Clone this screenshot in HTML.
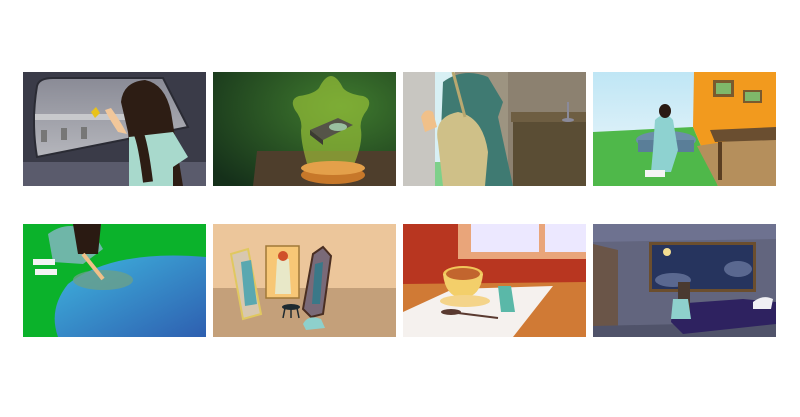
<!DOCTYPE html>
<html><head><meta charset="utf-8"><style>
html,body{margin:0;padding:0;background:#fff;width:800px;height:417px;overflow:hidden;font-family:"Liberation Sans",sans-serif}
.p{position:absolute;width:183px;height:114px;overflow:hidden}
.p svg{display:block}
</style></head><body>
<div>

<div class="p" style="left:23px;top:72px">
<svg width="183" height="114" viewBox="0 0 183 114">
<defs><linearGradient id="g1" x1="0" y1="0" x2="0" y2="1"><stop offset="0" stop-color="#8a8b96"/><stop offset="1" stop-color="#b5b6bc"/></linearGradient></defs>
<rect width="183" height="114" fill="#3a3b48"/>
<rect x="0" y="90" width="183" height="24" fill="#5a5b6c"/>
<path d="M14 14 Q16 6 30 6 L140 6 L165 55 L14 85 Q8 50 14 14 Z" fill="url(#g1)" stroke="#2a2b34" stroke-width="2"/>
<rect x="12" y="42" width="120" height="6" fill="#c8c9cc"/>
<rect x="18" y="58" width="6" height="12" fill="#777"/><rect x="38" y="56" width="6" height="12" fill="#777"/><rect x="58" y="55" width="6" height="12" fill="#777"/>
<polygon points="68,40 73,35 77,41 72,46" fill="#e8c21a"/>
<path d="M95 60 Q85 45 82 38 L88 36 Q98 50 104 62 Z" fill="#f2c79a"/>
<path d="M98 30 Q100 10 122 8 Q142 12 148 40 L160 114 L110 114 L105 60 Z" fill="#2d1d14"/>
<path d="M106 65 L150 60 L165 85 L150 95 L150 114 L106 114 Z" fill="#a8d9cc"/>
<path d="M115 60 Q120 70 125 110" stroke="#2d1d14" stroke-width="10" fill="none"/>
</svg></div>

<div class="p" style="left:213px;top:72px">
<svg width="183" height="114" viewBox="0 0 183 114">
<defs><radialGradient id="g2" cx="0.7" cy="0.3" r="0.9"><stop offset="0" stop-color="#3f7a2e"/><stop offset="1" stop-color="#15301a"/></radialGradient></defs>
<rect width="183" height="114" fill="url(#g2)"/>
<path d="M44 79 L183 79 L183 114 L40 114 Z" fill="#4e3e2c"/>
<path d="M118 4 Q124 4 130 16 Q135 22 150 24 Q160 27 154 38 Q146 48 148 58 Q150 72 140 95 L95 95 Q88 72 88 58 Q90 48 82 38 Q76 27 86 24 Q101 22 106 16 Q112 4 118 4 Z" fill="#a6cf3a" opacity="0.6"/>
<ellipse cx="120" cy="103" rx="32" ry="9" fill="#c7782a"/>
<ellipse cx="120" cy="96" rx="32" ry="7" fill="#e4a04a"/>
<polygon points="97,58 125,46 140,53 110,68" fill="#555448"/>
<polygon points="97,58 110,68 110,73 97,63" fill="#3c3b33"/>
<ellipse cx="125" cy="55" rx="9" ry="4" fill="#9ac0a0"/>
</svg></div>

<div class="p" style="left:403px;top:72px">
<svg width="183" height="114" viewBox="0 0 183 114">
<rect width="183" height="114" fill="#9d9481"/>
<rect x="0" y="0" width="32" height="114" fill="#c8c6c1"/>
<rect x="32" y="0" width="20" height="114" fill="#d8f0f4"/>
<rect x="32" y="90" width="20" height="24" fill="#7ed08a"/>
<rect x="105" y="0" width="78" height="114" fill="#8c8170"/>
<rect x="108" y="40" width="75" height="10" fill="#6e5e42"/>
<rect x="110" y="50" width="73" height="64" fill="#5a4d34"/>
<ellipse cx="165" cy="48" rx="6" ry="2" fill="#8a8a9a"/>
<rect x="164" y="30" width="2" height="18" fill="#8a8a9a"/>
<path d="M40 10 Q60 -5 85 5 L100 30 L95 45 L110 114 L45 114 L38 60 Z" fill="#3f7a72"/>
<path d="M35 70 Q30 45 55 40 Q80 45 85 80 L82 114 L40 114 Z" fill="#cfc088"/>
<path d="M50 0 L62 45" stroke="#b8a870" stroke-width="3"/>
<path d="M18 45 Q22 35 30 40 L34 55 L22 60 Z" fill="#f0c089"/>
</svg></div>

<div class="p" style="left:593px;top:72px">
<svg width="183" height="114" viewBox="0 0 183 114">
<defs><linearGradient id="g4" x1="0" y1="0" x2="0" y2="1"><stop offset="0" stop-color="#bfe6f5"/><stop offset="1" stop-color="#f1f8fb"/></linearGradient></defs>
<rect width="183" height="114" fill="url(#g4)"/>
<path d="M0 60 L100 55 L125 114 L0 114 Z" fill="#4fb84a"/>
<path d="M101 0 L183 0 L183 114 L125 114 L100 55 Z" fill="#f29a1e"/>
<path d="M104 74 L183 62 L183 114 L125 114 Z" fill="#b58f5c"/>
<rect x="120" y="8" width="21" height="17" fill="#7a5a2e"/><rect x="123" y="11" width="15" height="11" fill="#7fb86a"/>
<rect x="150" y="18" width="19" height="13" fill="#7a5a2e"/><rect x="152" y="20" width="15" height="9" fill="#7fb86a"/>
<polygon points="117,58 183,55 183,68 122,70" fill="#6a4e30"/>
<rect x="125" y="70" width="4" height="38" fill="#5a3e22"/>
<ellipse cx="73" cy="68" rx="30" ry="9" fill="#6b8ea8"/>
<rect x="45" y="68" width="56" height="12" fill="#5a7e98"/>
<path d="M62 48 Q72 38 80 48 L85 78 L60 78 Z" fill="#8ed2d0"/>
<ellipse cx="72" cy="39" rx="6" ry="7" fill="#2a1a12"/>
<path d="M60 78 L85 78 L78 100 L58 100 Z" fill="#8ed2d0"/>
<rect x="52" y="98" width="20" height="7" fill="#f4f4f4"/>
</svg></div>

<div class="p" style="left:23px;top:224px">
<svg width="183" height="113" viewBox="0 0 183 113">
<defs><linearGradient id="g5" x1="0" y1="0" x2="1" y2="1"><stop offset="0" stop-color="#3fb6df"/><stop offset="1" stop-color="#2e5fb0"/></linearGradient></defs>
<rect width="183" height="113" fill="#0bb22b"/>
<path d="M45 60 Q90 25 183 33 L183 113 L35 113 Q25 85 45 60 Z" fill="url(#g5)"/>
<ellipse cx="80" cy="56" rx="30" ry="10" fill="#6aa08a" opacity="0.8"/>
<path d="M25 10 Q45 -5 70 8 L80 25 L60 40 L30 38 Z" fill="#6fb6a8"/>
<path d="M50 0 L78 0 L75 30 L55 30 Z" fill="#2a1a12"/>
<rect x="10" y="35" width="22" height="6" fill="#f4f4f4"/>
<rect x="12" y="45" width="22" height="6" fill="#f4f4f4"/>
<path d="M60 30 L80 55" stroke="#f0c089" stroke-width="4"/>
</svg></div>

<div class="p" style="left:213px;top:224px">
<svg width="183" height="113" viewBox="0 0 183 113">
<rect width="183" height="113" fill="#ecc69b"/>
<rect x="0" y="64" width="183" height="49" fill="#c4a07a"/>
<polygon points="18,30 35,25 48,90 30,95" fill="#d8c8b0" stroke="#e0c860" stroke-width="2"/>
<path d="M28 38 L38 36 L44 80 L32 82 Z" fill="#5aa8b0"/>
<rect x="53" y="22" width="33" height="52" fill="#f7c776" stroke="#a07838" stroke-width="1.5"/>
<path d="M64 35 L76 35 L78 70 L62 70 Z" fill="#e8e8c8"/>
<circle cx="70" cy="32" r="5" fill="#d0502a"/>
<polygon points="100,30 110,23 118,32 110,90 98,93 90,85" fill="#7a6a78" stroke="#4a2e22" stroke-width="2"/>
<path d="M102 40 L110 38 L107 80 L99 80 Z" fill="#3a7888"/>
<ellipse cx="78" cy="83" rx="9" ry="3" fill="#1e2a30"/>
<path d="M72 84 L70 94 M84 84 L86 94 M78 85 L78 94" stroke="#1e2a30" stroke-width="1.5"/>
<path d="M90 100 Q95 90 108 95 L112 104 L93 106 Z" fill="#8ed0cc"/>
</svg></div>

<div class="p" style="left:403px;top:224px">
<svg width="183" height="113" viewBox="0 0 183 113">
<rect width="183" height="113" fill="#b83620"/>
<rect x="55" y="0" width="128" height="35" fill="#e9a57a"/>
<rect x="68" y="0" width="115" height="28" fill="#ece8ff"/>
<rect x="136" y="0" width="6" height="28" fill="#e9a57a"/>
<polygon points="0,60 183,58 183,113 0,113" fill="#d07a35"/>
<polygon points="0,88 50,65 150,62 110,113 0,113" fill="#f5f1ee"/>
<ellipse cx="60" cy="50" rx="20" ry="8" fill="#f1c65a"/>
<path d="M40 50 Q42 72 60 75 Q78 72 80 50 Z" fill="#f3cf6a"/>
<ellipse cx="60" cy="50" rx="17" ry="6" fill="#c2652e"/>
<ellipse cx="62" cy="77" rx="25" ry="6" fill="#f4d48a"/>
<ellipse cx="48" cy="88" rx="10" ry="3" fill="#5a3a30"/>
<path d="M55 89 L95 94" stroke="#5a3a30" stroke-width="2"/>
<path d="M95 62 L108 62 L112 88 L98 88 Z" fill="#5ab8a8"/>
</svg></div>

<div class="p" style="left:593px;top:224px">
<svg width="183" height="113" viewBox="0 0 183 113">
<rect width="183" height="113" fill="#62657e"/>
<polygon points="0,0 183,0 183,15 0,18" fill="#6e7290"/>
<polygon points="0,20 25,26 25,113 0,113" fill="#6a5548"/>
<rect x="56" y="18" width="107" height="50" fill="#6b4e2e"/>
<rect x="59" y="21" width="101" height="44" fill="#26345e"/>
<circle cx="74" cy="28" r="4" fill="#f3dd92"/>
<ellipse cx="80" cy="56" rx="18" ry="7" fill="#5a6890"/>
<ellipse cx="145" cy="45" rx="14" ry="8" fill="#5a6890"/>
<polygon points="0,102 183,98 183,113 0,113" fill="#50536a"/>
<polygon points="80,80 150,75 183,78 183,100 90,110 78,98" fill="#2e2260"/>
<path d="M160 78 Q170 70 180 75 L178 85 L160 85 Z" fill="#f0f0f4"/>
<rect x="85" y="58" width="12" height="30" fill="#4a3a30"/>
<path d="M80 75 L95 75 L98 95 L78 95 Z" fill="#8ed0cc"/>
</svg></div>

</div>
</body></html>
